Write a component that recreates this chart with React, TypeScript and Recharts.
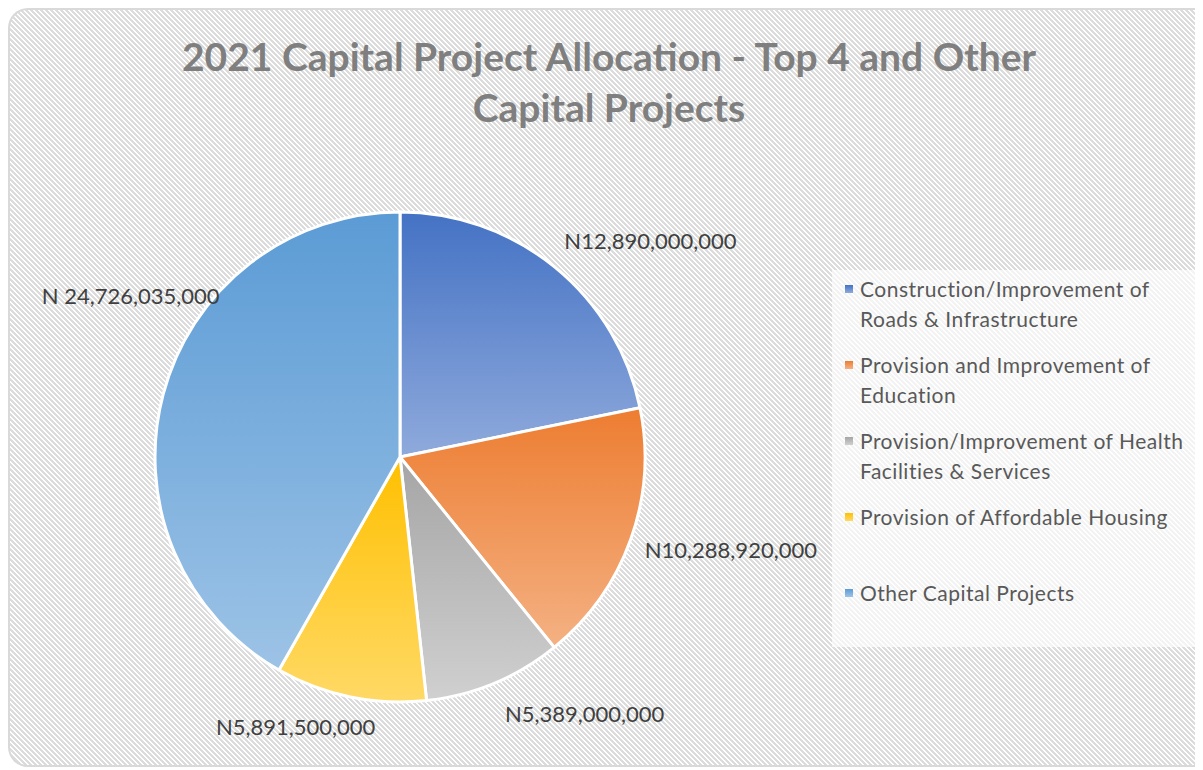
import React from "react";
import { PieChart, Pie, Cell, Legend } from "recharts";

const categories = [
  "Construction/Improvement of Roads & Infrastructure",
  "Provision and Improvement of Education",
  "Provision/Improvement of Health Facilities & Services",
  "Provision of Affordable Housing",
  "Other Capital Projects",
];

const allocations = [12890000000, 10288920000, 5389000000, 5891500000, 24726035000];

const valueLabels = [
  "N12,890,000,000",
  "N10,288,920,000",
  "N5,389,000,000",
  "N5,891,500,000",
  "N 24,726,035,000",
];

// top / bottom colours of each slice gradient
const topColors = ["#4472C4", "#ED7D31", "#A5A5A5", "#FFC000", "#5B9BD5"];
const bottomColors = ["#8FAADC", "#F4B183", "#D0D0D0", "#FFD966", "#9DC3E6"];

// small nudges for the data labels, Excel "best fit" style
const labelNudge = [
  [0, -15],
  [0, 5],
  [5, 17],
  [28, 15],
  [71, -95],
];

const chartData = categories.map((name, i) => ({ name, value: allocations[i] }));

const RADIAN = Math.PI / 180;
const FONT = "Lato, 'Open Sans', sans-serif";

const renderLabel = (props: any) => {
  const { cx, cy, midAngle, outerRadius, index } = props;
  const r = outerRadius + 15;
  const cos = Math.cos(-midAngle * RADIAN);
  const sin = Math.sin(-midAngle * RADIAN);
  const x = cx + r * cos + labelNudge[index][0];
  const y = cy + r * sin + labelNudge[index][1];
  return (
    <text
      x={x}
      y={y}
      textAnchor={cos >= 0 ? "start" : "end"}
      dominantBaseline="central"
      fill="#404040"
      fontSize={22}
      fontFamily={FONT}
    >
      {valueLabels[index]}
    </text>
  );
};

const renderLegend = () => (
  <div
    style={{
      background: "rgba(255,255,255,0.65)",
      width: 371,
      height: 377,
      boxSizing: "border-box",
      paddingTop: 4,
      paddingLeft: 13,
      fontFamily: FONT,
    }}
  >
    {categories.map((name, i) => (
      <div
        key={name}
        style={{ display: "flex", alignItems: "flex-start", minHeight: 60, marginBottom: 16 }}
      >
        <div
          style={{
            width: 8,
            height: 8,
            marginTop: 11,
            marginRight: 7,
            flexShrink: 0,
            background: `linear-gradient(${topColors[i]}, ${bottomColors[i]})`,
          }}
        />
        <div
          style={{
            width: 336,
            fontSize: 21,
            letterSpacing: 0.5,
            lineHeight: "30px",
            color: "#595959",
          }}
        >
          {name}
        </div>
      </div>
    ))}
  </div>
);

export default function App() {
  return (
    <div
      style={{
        position: "relative",
        width: 1195,
        height: 759,
        boxSizing: "border-box",
        border: "2px solid #d9d9d9",
        borderRight: "none",
        borderRadius: "20px 0 0 20px",
        overflow: "hidden",
        backgroundColor: "#ffffff",
        backgroundImage:
          "linear-gradient(45deg, #dcdcdc 25%, #ffffff 25%, #ffffff 50%, #dcdcdc 50%, #dcdcdc 75%, #ffffff 75%)",
        backgroundSize: "5px 5px",
      }}
    >
      <div
        style={{
          position: "absolute",
          left: 0,
          top: 21,
          width: 1198,
          textAlign: "center",
          fontFamily: FONT,
          fontWeight: 700,
          fontSize: 39,
          lineHeight: "51px",
          color: "#7f7f7f",
        }}
      >
        2021 Capital Project Allocation - Top 4 and Other
        <br />
        Capital Projects
      </div>
      <div style={{ position: "absolute", left: -2, top: -2 }}>
        <PieChart width={1195} height={759} margin={{ top: 0, right: 0, bottom: 0, left: 0 }}>
          <defs>
            {topColors.map((c, i) => (
              <linearGradient key={c} id={`slice${i}`} x1="0" y1="0" x2="0" y2="1">
                <stop offset="0%" stopColor={c} />
                <stop offset="100%" stopColor={bottomColors[i]} />
              </linearGradient>
            ))}
          </defs>
          <Pie
            data={chartData}
            dataKey="value"
            nameKey="name"
            cx={392}
            cy={449}
            outerRadius={245}
            startAngle={90}
            endAngle={-270}
            stroke="#ffffff"
            strokeWidth={3}
            label={renderLabel}
            labelLine={false}
            isAnimationActive={false}
          >
            {chartData.map((d, i) => (
              <Cell key={d.name} fill={`url(#slice${i})`} />
            ))}
          </Pie>
          <Legend
            layout="vertical"
            align="right"
            verticalAlign="top"
            content={renderLegend}
            wrapperStyle={{ position: "absolute", left: 824, top: 262, width: 371, height: 377 }}
          />
        </PieChart>
      </div>
    </div>
  );
}
